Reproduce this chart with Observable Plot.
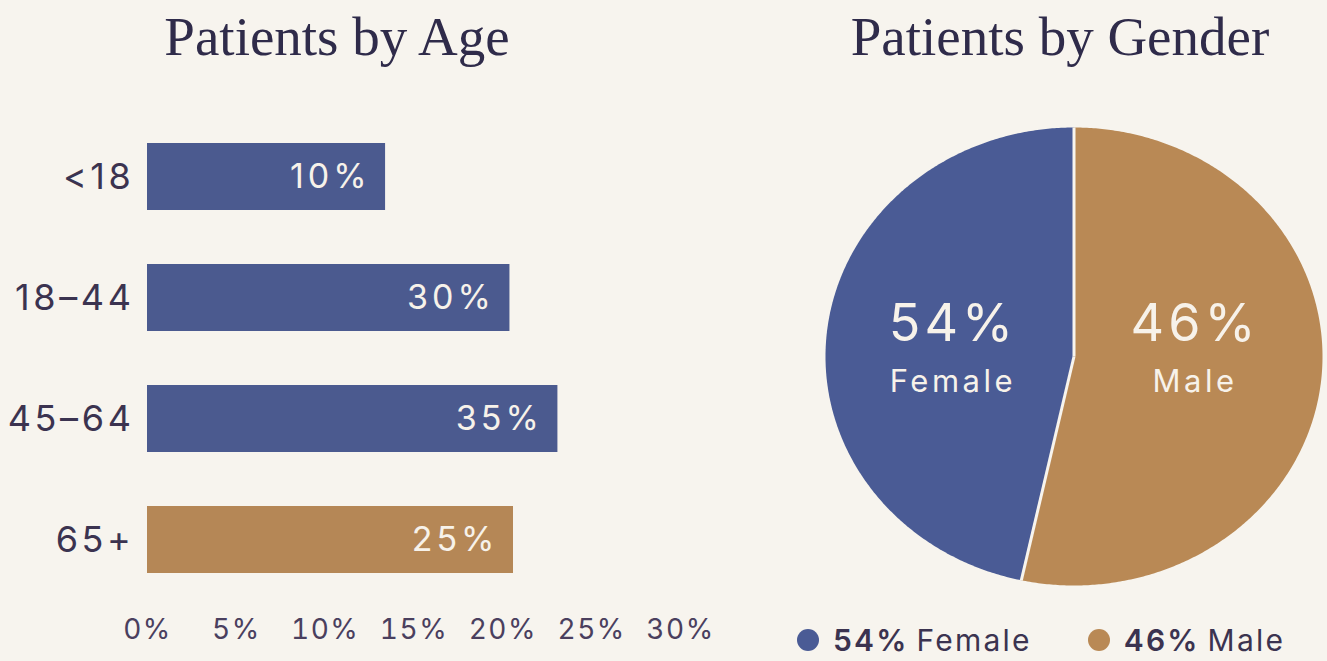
<!DOCTYPE html>
<html>
<head>
<meta charset="utf-8">
<script src="https://cdn.jsdelivr.net/npm/d3@7"></script>
<script src="https://cdn.jsdelivr.net/npm/@observablehq/plot@0.6"></script>
<style>
  html, body { margin: 0; padding: 0; background: #f7f4ee; width: 1327px; height: 661px; overflow: hidden; }
  .title { position: absolute; font-family: "Liberation Serif", serif; font-size: 55px; line-height: 1; color: #2f2b4a; text-align: center; white-space: nowrap; }
  .plot { position: absolute; }
  .legend { position: absolute; font-family: Inter, "Open Sans", sans-serif; font-size: 30px; letter-spacing: 2.2px; color: #3b3350; white-space: nowrap; display: flex; align-items: center; line-height: 36px; }
  .legend .item { display: flex; align-items: center; }
  .legend .sw { width: 22px; height: 22px; border-radius: 50%; display: inline-block; margin-right: 14px; }
  .legend b { font-weight: 600; margin-right: 8px; }
  #agePlot g[aria-label="y-axis tick label"] { letter-spacing: 3.6px; }
  #agePlot g[aria-label="x-axis tick label"] { letter-spacing: 1.5px; }
  #agePlot g[font-size="34"] { letter-spacing: 4px; }
  #genderPlot g[font-size="52"] { letter-spacing: 4px; }
  #genderPlot g[font-size="31"] { letter-spacing: 3.5px; }
</style>
</head>
<body>
<div class="title" id="ageTitle" style="left:0;width:674px;top:9px">Patients by Age</div>
<div class="plot" id="agePlot" style="left:0;top:80px"></div>
<div class="title" id="genderTitle" style="left:760px;width:600px;top:9px">Patients by Gender</div>
<div class="plot" id="genderPlot" style="left:760px;top:80px"></div>
<div class="legend" id="legend" style="left:797px;top:622px"></div>
<script>
// ---- data ----
const ageGroups = ["<18", "18–44", "45–64", "65+"];
const ageBarValues = [13.4, 20.4, 23.1, 20.6];   // bar lengths as drawn against the axis
const ageLabels = ["10%", "30%", "35%", "25%"];   // printed labels
const xTicks = [0, 5, 10, 15, 20, 25, 30];

const genders = ["Male", "Female"];
const genderShares = [53.4, 46.6];               // slice sizes as drawn
const genderLabels = ["46%", "54%"];              // printed labels
const legendOrder = ["Female", "Male"];

// ---- styles ----
const BLUE = "#4b5a8f";
const TAN = "#b58756";
const PIE_BLUE = "#4a5b95";
const PIE_TAN = "#b98955";
const INK = "#3b3350";
const LIGHT = "#f7f2ea";
const BG = "#f7f4ee";
const SANS = "Inter, 'Open Sans', sans-serif";

// ---- age bar chart ----
const ageData = ageGroups.map((g, i) => ({group: g, value: ageBarValues[i], label: ageLabels[i]}));
const barFill = d => d.group === "65+" ? TAN : BLUE;

const agePlot = Plot.plot({
  width: 720,
  height: 581,
  marginLeft: 147,
  marginRight: 40,
  marginTop: 0,
  marginBottom: 26,
  style: {background: "transparent", fontFamily: SANS, color: INK, overflow: "visible"},
  x: {domain: [0, 30], ticks: xTicks, tickFormat: d => d + "%"},
  y: {domain: ageGroups, paddingInner: 0.45, paddingOuter: 0.5},
  marks: [
    Plot.barX(ageData, {y: "group", x: "value", fill: barFill}),
    Plot.text(ageData, {y: "group", x: "value", text: "label", textAnchor: "end", dx: -15, fill: LIGHT, fontSize: 34}),
    Plot.axisY({tickSize: 0, tickPadding: 13, fontSize: 36, label: null, fill: INK}),
    Plot.axisX({anchor: "bottom", ticks: xTicks, tickFormat: d => d + "%", tickSize: 0, tickPadding: 0, dy: -16, fontSize: 28, label: null, fill: "#4a3f5e"})
  ]
});
document.getElementById("agePlot").appendChild(agePlot);

// ---- gender pie ----
const arcs = d3.pie().sort(null).value(d => d.share)(
  genders.map((g, i) => ({name: g, share: genderShares[i], label: genderLabels[i]}))
);
function arcPoints(a) {
  const n = Math.max(2, Math.ceil((a.endAngle - a.startAngle) / (Math.PI / 360)));
  const pts = [{x: 0, y: 0}];
  for (let k = 0; k <= n; k++) {
    const t = a.startAngle + (a.endAngle - a.startAngle) * k / n;
    pts.push({x: Math.sin(t), y: -Math.cos(t)});
  }
  pts.push({x: 0, y: 0});
  return pts;
}
const sliceColor = name => name === "Female" ? PIE_BLUE : PIE_TAN;
const mid = a => (a.startAngle + a.endAngle) / 2;

const genderPlot = Plot.plot({
  width: 567,
  height: 530,
  margin: 0,
  style: {background: "transparent", fontFamily: SANS, overflow: "visible"},
  x: {domain: [-1, 1], range: [65, 562], axis: null},
  y: {domain: [-1, 1], range: [47, 505], axis: null},
  marks: [
    ...arcs.map(a => Plot.line(arcPoints(a), {x: "x", y: "y", fill: sliceColor(a.data.name), stroke: "none", curve: "linear"})),
    Plot.link(arcs, {x1: () => 0, y1: () => 0, x2: a => Math.sin(a.startAngle), y2: a => -Math.cos(a.startAngle), stroke: BG, strokeWidth: 3}),
    Plot.text(arcs, {x: a => 0.49 * Math.sin(mid(a)), y: () => 0, text: a => a.data.label, dy: -32, dx: 0, fill: LIGHT, fontSize: 52}),
    Plot.text(arcs, {x: a => 0.49 * Math.sin(mid(a)), y: () => 0, text: a => a.data.name, dy: 26, dx: 0, fill: LIGHT, fontSize: 31})
  ]
});
document.getElementById("genderPlot").appendChild(genderPlot);

// ---- legend ----
const legend = document.getElementById("legend");
legendOrder.forEach((name, i) => {
  const idx = genders.indexOf(name);
  const item = document.createElement("span");
  item.className = "item";
  if (i > 0) item.style.marginLeft = "56px";
  item.innerHTML = `<span class="sw" style="background:${sliceColor(name)}"></span><b>${genderLabels[idx]}</b>${name}`;
  legend.appendChild(item);
});
</script>
</body>
</html>
